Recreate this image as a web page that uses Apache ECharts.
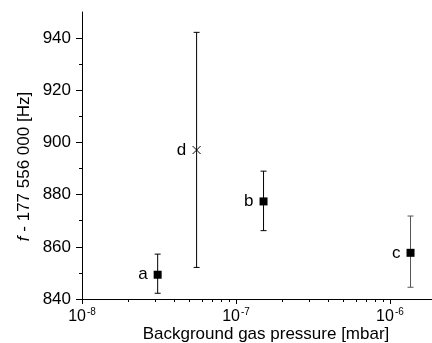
<!DOCTYPE html>
<html><head><meta charset="utf-8">
<script src="https://cdn.jsdelivr.net/npm/echarts@6/dist/echarts.min.js"></script>
<style>html,body{margin:0;padding:0;background:#fff}#c{width:432px;height:343px}</style>
</head><body><div id="c"></div>
<script>
// data
const pointNames = ['a', 'd', 'b', 'c'];
const pressures = [3.1e-8, 5.55e-8, 1.51e-7, 1.36e-6];   // mbar
const freqs = [849.3, 897.1, 877.4, 857.7];               // Hz offset
const errLow = [842.2, 852.1, 866.2, 844.5];
const errHigh = [857.2, 942.2, 889.0, 871.8];
const xMajorExp = [-8, -7, -6];
const xMinorMult = [2, 3, 4, 5, 6, 7, 8, 9];
const yMajorTicks = [840, 860, 880, 900, 920, 940];
const yMinorTicks = [850, 870, 890, 910, 930];

const FONT = 'Liberation Sans, Arial, sans-serif';
const lx = pressures.map(p => Math.log10(p));
const xMinor = [];
xMajorExp.concat([-5]).forEach(e => xMinorMult.forEach(m => { const v = Math.log10(m) + e; if (v < -5.727) xMinor.push(v); }));

const chart = echarts.init(document.getElementById('c'), null, {renderer: 'canvas'});
const xMin = -8, xMax = -5.727, yMin = 840, yMax = 950;
const baseX = {type: 'value', min: xMin, max: xMax, position: 'bottom', splitLine: {show: false}};
const baseY = {type: 'value', min: yMin, max: yMax, position: 'left', splitLine: {show: false}};
chart.setOption({
  animation: false,
  grid: {left: 82, right: 0, top: 12, bottom: 44, containLabel: false, outerBoundsMode: 'none'},
  xAxis: [
    Object.assign({}, baseX, {
      axisLine: {show: true, onZero: false, lineStyle: {color: '#000', width: 1}},
      axisTick: {show: true, length: 5, inside: false, customValues: xMajorExp, lineStyle: {color: '#000'}},
      axisLabel: {show: true, customValues: xMajorExp, margin: 8,
        formatter: v => '{b|10}{s|' + Math.round(v) + '}',
        rich: {b: {fontFamily: FONT, fontSize: 16, color: '#000'},
               s: {fontFamily: FONT, fontSize: 10, color: '#000', verticalAlign: 'top', padding: [0, 0, 9, 1]}}},
      name: 'Background gas pressure [mbar]', nameLocation: 'middle', nameGap: 27, nameMoveOverlap: false,
      nameTextStyle: {fontFamily: FONT, fontSize: 17, color: '#000', padding: [0, 0, 0, 18]}
    }),
    Object.assign({}, baseX, {
      axisLine: {show: false},
      axisTick: {show: true, length: 3, customValues: xMinor, lineStyle: {color: '#000'}},
      axisLabel: {show: false}
    })
  ],
  yAxis: [
    Object.assign({}, baseY, {
      axisLine: {show: true, onZero: false, lineStyle: {color: '#000', width: 1}},
      axisTick: {show: true, length: 6, customValues: yMajorTicks, lineStyle: {color: '#000'}},
      axisLabel: {show: true, customValues: yMajorTicks, margin: 11,
        fontFamily: FONT, fontSize: 17, color: '#000'},
      name: '{i|f} - 177 556 000 [Hz]', nameLocation: 'middle', nameGap: 49, nameMoveOverlap: false,
      nameTextStyle: {fontFamily: FONT, fontSize: 17, color: '#000', padding: [0, 22, 0, 0],
        rich: {i: {fontFamily: FONT, fontSize: 17, fontStyle: 'italic', color: '#000'}}}
    }),
    Object.assign({}, baseY, {
      axisLine: {show: false},
      axisTick: {show: true, length: 3, customValues: yMinorTicks, lineStyle: {color: '#000'}},
      axisLabel: {show: false}
    })
  ],
  series: [
    {
      type: 'custom', xAxisIndex: 0, yAxisIndex: 0,
      data: lx.map((x, i) => [x, errLow[i], errHigh[i]]),
      renderItem: function (params, api) {
        const x = api.value(0);
        const lo = api.coord([x, api.value(1)]);
        const hi = api.coord([x, api.value(2)]);
        const w = 3;
        const col = params.dataIndex === 3 ? '#555' : '#000';
        const st = {stroke: col, lineWidth: 1};
        return {type: 'group', children: [
          {type: 'line', shape: {x1: lo[0], y1: lo[1], x2: hi[0], y2: hi[1]}, style: st},
          {type: 'line', shape: {x1: lo[0] - w, y1: lo[1], x2: lo[0] + w, y2: lo[1]}, style: st},
          {type: 'line', shape: {x1: hi[0] - w, y1: hi[1], x2: hi[0] + w, y2: hi[1]}, style: st}
        ]};
      },
      z: 2
    },
    {
      type: 'scatter', xAxisIndex: 0, yAxisIndex: 0, z: 3,
      itemStyle: {opacity: 1},
      data: lx.map((x, i) => {
        const isCross = pointNames[i] === 'd';
        return {
          value: [x, freqs[i]], name: pointNames[i],
          symbol: isCross ? 'path://M0,0L10,10M10,0L0,10' : 'rect',
          symbolSize: 8,
          itemStyle: isCross ? {color: 'rgba(0,0,0,0)', borderColor: '#000', borderWidth: 1, opacity: 1} : {color: '#000', opacity: 1}
        };
      }),
      label: {show: true, position: 'left', distance: 6, formatter: p => p.name,
        fontFamily: FONT, fontSize: 17, color: '#000'}
    }
  ]
});
</script></body></html>
